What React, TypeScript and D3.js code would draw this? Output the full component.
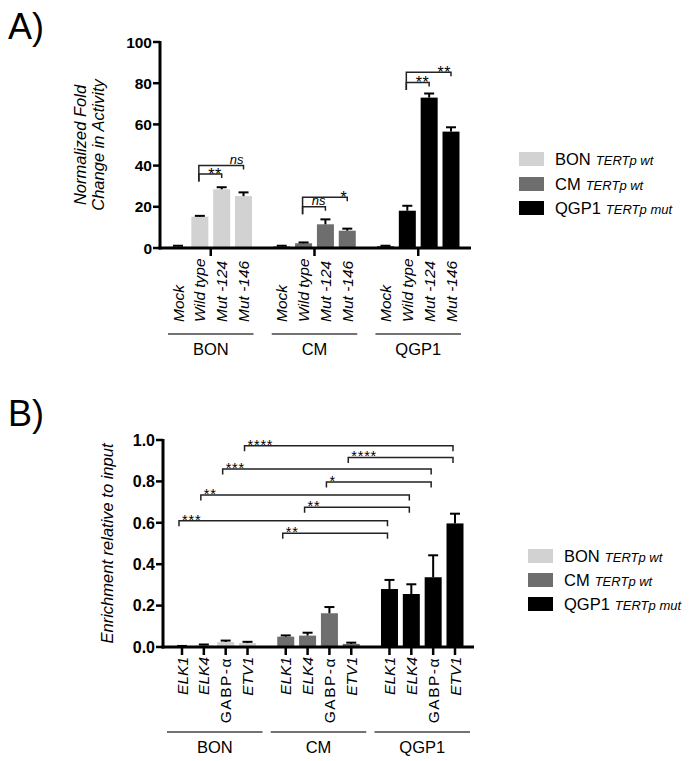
import React from "react";
import * as d3 from "d3";

const groups = ["BON", "CM", "QGP1"];
const groupColors = ["#d2d2d2", "#6e6e6e", "#000000"];
const legendSub = ["TERTp wt", "TERTp wt", "TERTp mut"];

// Panel A
const catsA = ["Mock", "Wild type", "Mut -124", "Mut -146"];
const meanA = [
  [0.8, 15.2, 28.5, 25.2],
  [0.8, 2.3, 11.5, 8.4],
  [0.8, 18.1, 73.0, 56.5],
];
const errA = [
  [0.3, 0.4, 1.0, 1.8],
  [0.3, 0.4, 2.4, 1.0],
  [0.3, 2.4, 2.0, 2.1],
];
const ticksA = [0, 20, 40, 60, 80, 100];
const sigA = [
  { g1: 0, i1: 1, g2: 0, i2: 2, y: 35.9, label: "**" },
  { g1: 0, i1: 1, g2: 0, i2: 3, y: 40.0, label: "ns" },
  { g1: 1, i1: 1, g2: 1, i2: 2, y: 20.0, label: "ns" },
  { g1: 1, i1: 1, g2: 1, i2: 3, y: 24.6, label: "*" },
  { g1: 2, i1: 1, g2: 2, i2: 2, y: 80.4, label: "**" },
  { g1: 2, i1: 1, g2: 2, i2: 3, y: 85.3, label: "**" },
];

// Panel B
const catsB = ["ELK1", "ELK4", "GABP-α", "ETV1"];
const meanB = [
  [0.003, 0.008, 0.024, 0.019],
  [0.05, 0.055, 0.163, 0.015],
  [0.28, 0.256, 0.337, 0.597],
];
const errB = [
  [0.002, 0.004, 0.007, 0.006],
  [0.006, 0.014, 0.03, 0.006],
  [0.044, 0.047, 0.106, 0.047],
];
const ticksB = [0, 0.2, 0.4, 0.6, 0.8, 1.0];
const sigB = [
  { g1: 0, i1: 3, g2: 2, i2: 3, y: 0.972, label: "****" },
  { g1: 1, i1: 3, g2: 2, i2: 3, y: 0.916, label: "****" },
  { g1: 0, i1: 2, g2: 2, i2: 2, y: 0.86, label: "***" },
  { g1: 1, i1: 2, g2: 2, i2: 2, y: 0.797, label: "*" },
  { g1: 0, i1: 1, g2: 2, i2: 1, y: 0.734, label: "**" },
  { g1: 1, i1: 1, g2: 2, i2: 1, y: 0.675, label: "**" },
  { g1: 0, i1: 0, g2: 2, i2: 0, y: 0.61, label: "***" },
  { g1: 1, i1: 0, g2: 2, i2: 0, y: 0.549, label: "**" },
];

const FONT = "'Liberation Sans', Arial, Helvetica, sans-serif";
const GAP = 0.75;

type Sig = { g1: number; i1: number; g2: number; i2: number; y: number; label: string };

type PanelProps = {
  letter: string;
  letterY: number;
  cats: string[];
  italicCats: boolean[];
  catSpacing: number[];
  means: number[][];
  errs: number[][];
  ticks: number[];
  tickFmt: (v: number) => string;
  yMax: number;
  axisX: number;
  axisEnd: number;
  y0: number;
  y1: number;
  firstC: number;
  lastC: number;
  yLabel: string[];
  yLabelX: number[];
  catY: number;
  catAnchor: "start" | "end";
  groupLineY: number;
  groupLineExt: number;
  groupLabelY: number;
  xTicksEach: boolean;
  sigs: Sig[];
  sigMode: "A" | "B";
  legendX: number;
  legendYs: number[];
  tickFont: number;
};

function sigOther(sigs: Sig[], s: Sig): number {
  const inner = sigs.find((o) => o.g1 === s.g1 && o.i1 === s.i1 && o.i2 === 2);
  return inner ? inner.y : s.y;
}

function Panel(p: PanelProps) {
  const y = d3.scaleLinear().domain([0, p.yMax]).range([p.y0, p.y1]);
  const slot = d3.scaleLinear().domain([0, 11 + 2 * GAP]).range([p.firstC, p.lastC]);
  const cx = (g: number, i: number) => slot(g * 4 + i + g * GAP);
  const barW = 17;
  const midY = (p.y0 + p.y1) / 2;

  const xTicks: number[] = [];
  groups.forEach((_, g) => {
    if (p.xTicksEach) p.cats.forEach((_, i) => xTicks.push(cx(g, i)));
    else xTicks.push((cx(g, 1) + cx(g, 2)) / 2);
  });

  return (
    <g>
      <text x={8} y={p.letterY} fontSize={36} fontFamily={FONT}>{p.letter}</text>
      {p.yLabel.map((t, k) => (
        <text key={k} transform={`translate(${p.yLabelX[k]},${midY}) rotate(-90)`} textAnchor="middle"
          fontSize={16.5} fontStyle="italic" fontFamily={FONT}>{t}</text>
      ))}
      {groups.map((gname, g) =>
        p.cats.map((c, i) => {
          const x = cx(g, i);
          const top = y(p.means[g][i]);
          const et = y(p.means[g][i] + p.errs[g][i]);
          return (
            <g key={gname + c}>
              <rect x={x - barW / 2} y={top} width={barW} height={p.y0 - top} fill={groupColors[g]} />
              <line x1={x} x2={x} y1={top} y2={et} stroke="#000" strokeWidth={2} />
              <line x1={x - 5} x2={x + 5} y1={et} y2={et} stroke="#000" strokeWidth={2} />
            </g>
          );
        })
      )}
      <line x1={p.axisX} x2={p.axisX} y1={p.y1 - 1} y2={p.y0 + 1.5} stroke="#000" strokeWidth={3} />
      <line x1={p.axisX - 1.5} x2={p.axisEnd} y1={p.y0} y2={p.y0} stroke="#000" strokeWidth={3} />
      {p.ticks.map((t) => (
        <g key={t}>
          <line x1={p.axisX - 7} x2={p.axisX} y1={y(t)} y2={y(t)} stroke="#000" strokeWidth={2.5} />
          <text x={p.axisX - 8} y={y(t)} dy="0.36em" textAnchor="end" fontWeight="bold"
            fontSize={p.tickFont} fontFamily={FONT}>{p.tickFmt(t)}</text>
        </g>
      ))}
      {xTicks.map((x, k) => (
        <line key={k} x1={x} x2={x} y1={p.y0} y2={p.y0 + 8} stroke="#000" strokeWidth={2.5} />
      ))}
      {groups.map((gname, g) =>
        p.cats.map((c, i) => (
          <text key={gname + c + "l"} transform={`translate(${cx(g, i) + 5.5},${p.catY}) rotate(-90)`}
            textAnchor={p.catAnchor} fontSize={15.5} fontStyle={p.italicCats[i] ? "italic" : "normal"}
            letterSpacing={p.catSpacing[i]} fontFamily={FONT}>{c}</text>
        ))
      )}
      {groups.map((gname, g) => {
        const a = cx(g, 0) - p.groupLineExt;
        const b = cx(g, 3) + p.groupLineExt;
        return (
          <g key={gname + "grp"}>
            <line x1={a} x2={b} y1={p.groupLineY} y2={p.groupLineY} stroke="#444" strokeWidth={1.5} />
            <text x={(a + b) / 2} y={p.groupLabelY} textAnchor="middle" fontSize={16.5} fontFamily={FONT}>{gname}</text>
          </g>
        );
      })}
      {p.sigs.map((s, k) => {
        const xa = cx(s.g1, s.i1) - (p.sigMode === "B" ? 3 : 1);
        const xb = cx(s.g2, s.i2) - (p.sigMode === "B" ? 2 : 0);
        const ly = y(s.y);
        const leftDrop = p.sigMode === "A" ? (s.i2 === 2 ? 7.5 : y(sigOther(p.sigs, s)) - ly + 7.5) : 5.5;
        const rightDrop = p.sigMode === "A" ? 4 : 5.5;
        const isNs = s.label === "ns";
        return (
          <g key={k}>
            <path d={`M${xa},${ly + leftDrop}V${ly}H${xb}V${ly + rightDrop}`} fill="none" stroke="#222" strokeWidth={1.5} />
            {p.sigMode === "A" ? (
              <text x={xb} y={isNs ? ly - 2 : ly + 6} textAnchor="end" fontSize={isNs ? 13 : 16}
                fontStyle={isNs ? "italic" : "normal"} letterSpacing={isNs ? 0 : 0.5} fontFamily={FONT}>{s.label}</text>
            ) : (
              <text x={xa + 3} y={ly + 4} fontSize={14.5} letterSpacing={0.8} fontFamily={FONT}>{s.label}</text>
            )}
          </g>
        );
      })}
      {groups.map((gname, g) => (
        <g key={gname + "leg"}>
          <rect x={p.legendX} y={p.legendYs[g] - 7} width={25} height={14} fill={groupColors[g]} />
          <text x={p.legendX + 36} y={p.legendYs[g]} dy="0.36em" fontSize={16.5} fontFamily={FONT}>
            {gname}
            <tspan fontSize={13} fontStyle="italic" dx={5}>{legendSub[g]}</tspan>
          </text>
        </g>
      ))}
    </g>
  );
}

export default function App() {
  return (
    <svg width={700} height={761} style={{ position: "absolute", left: 0, top: 0, background: "#fff" }}>
      <rect width={700} height={761} fill="#fff" />
      <Panel
        letter="A)" letterY={39}
        cats={catsA} italicCats={[true, true, true, true]} catSpacing={[0, 0, 0, 0]}
        means={meanA} errs={errA} ticks={ticksA} tickFmt={(v) => String(v)} yMax={100}
        axisX={160} axisEnd={471} y0={248} y1={42} firstC={178} lastC={451}
        yLabel={["Normalized Fold", "Change in Activity"]} yLabelX={[86, 104]}
        catY={322} catAnchor="start" groupLineY={334} groupLineExt={10} groupLabelY={355}
        xTicksEach={false} sigs={sigA} sigMode="A"
        legendX={519} legendYs={[159, 184, 208]} tickFont={15.5}
      />
      <Panel
        letter="B)" letterY={426}
        cats={catsB} italicCats={[true, true, false, true]} catSpacing={[0, 0, 1.5, 0]}
        means={meanB} errs={errB} ticks={ticksB} tickFmt={d3.format(".1f")} yMax={1}
        axisX={163} axisEnd={474} y0={647} y1={440} firstC={182} lastC={455}
        yLabel={["Enrichment relative to input"]} yLabelX={[113]}
        catY={657} catAnchor="end" groupLineY={732} groupLineExt={15} groupLabelY={753}
        xTicksEach={true} sigs={sigB} sigMode="B"
        legendX={528} legendYs={[556, 580, 604]} tickFont={16}
      />
    </svg>
  );
}
